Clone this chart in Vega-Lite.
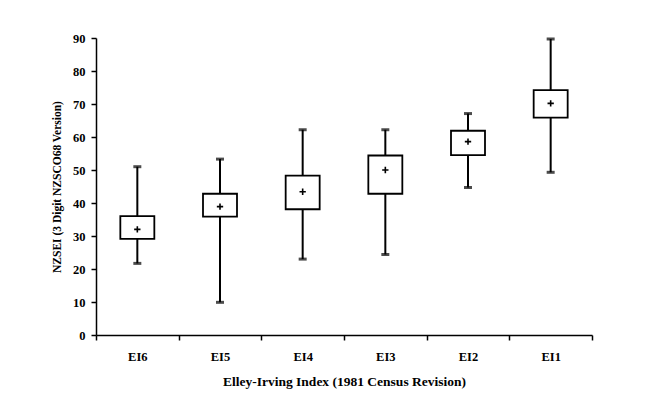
{
  "$schema": "https://vega.github.io/schema/vega-lite/v6.json",
  "autosize": {"type": "none"},
  "width": 496,
  "height": 297,
  "padding": {"left": 96, "top": 38, "right": 56, "bottom": 75},
  "background": "white",
  "config": {
    "view": {"stroke": null},
    "font": "Liberation Serif",
    "axis": {
      "domainColor": "black", "domainWidth": 1.5, "tickColor": "black", "tickWidth": 1.5,
      "labelColor": "black", "titleColor": "black", "labelFont": "Liberation Serif",
      "titleFont": "Liberation Serif", "labelFontWeight": "bold", "titleFontWeight": "bold",
      "grid": false
    }
  },
  "data": {
    "values": [
      {"group": "EI6", "min": 21.7, "q1": 29.1, "q3": 36.0, "max": 51.0, "mean": 32.0},
      {"group": "EI5", "min": 9.9, "q1": 35.9, "q3": 42.8, "max": 53.3, "mean": 38.9},
      {"group": "EI4", "min": 23.0, "q1": 38.1, "q3": 48.3, "max": 62.2, "mean": 43.4},
      {"group": "EI3", "min": 24.4, "q1": 42.8, "q3": 54.4, "max": 62.2, "mean": 50.0},
      {"group": "EI2", "min": 44.7, "q1": 54.5, "q3": 61.9, "max": 67.1, "mean": 58.6},
      {"group": "EI1", "min": 49.3, "q1": 65.9, "q3": 74.2, "max": 89.7, "mean": 70.2}
    ]
  },
  "encoding": {
    "x": {
      "field": "group", "type": "nominal", "sort": null,
      "scale": {"paddingInner": 0, "paddingOuter": 0},
      "axis": {
        "title": "Elley-Irving Index (1981 Census Revision)", "labelAngle": 0,
        "tickBand": "extent", "tickSize": 5, "labelPadding": 10, "labelFontSize": 12.5,
        "titleFontSize": 13.5, "titlePadding": 12
      }
    },
    "y": {
      "field": "min", "type": "quantitative", "scale": {"domain": [0, 90]},
      "axis": {"title": "NZSEI (3 Digit NZSCO68 Version)", "values": [0, 10, 20, 30, 40, 50, 60, 70, 80, 90],
        "labelOverlap": false, "tickSize": 5, "labelPadding": 6, "labelFontSize": 12.5,
        "titleFontSize": 11.5, "titlePadding": 10}
    }
  },
  "layer": [
    {
      "mark": {"type": "rule", "color": "black", "strokeWidth": 2},
      "encoding": {"y2": {"field": "max"}}
    },
    {
      "mark": {"type": "bar", "fill": "white", "stroke": "black", "strokeWidth": 1.8, "width": 34},
      "encoding": {
        "y": {"field": "q1", "type": "quantitative"},
        "y2": {"field": "q3"}
      }
    },
    {
      "mark": {"type": "tick", "color": "black", "size": 8, "thickness": 3},
      "encoding": {}
    },
    {
      "mark": {"type": "tick", "color": "black", "size": 8, "thickness": 3},
      "encoding": {"y": {"field": "max", "type": "quantitative"}}
    },
    {
      "mark": {"type": "point", "shape": "M-1,0H1M0,-1V1", "filled": false, "stroke": "black", "strokeWidth": 1.6, "size": 40, "opacity": 1},
      "encoding": {"y": {"field": "mean", "type": "quantitative"}}
    }
  ]
}
